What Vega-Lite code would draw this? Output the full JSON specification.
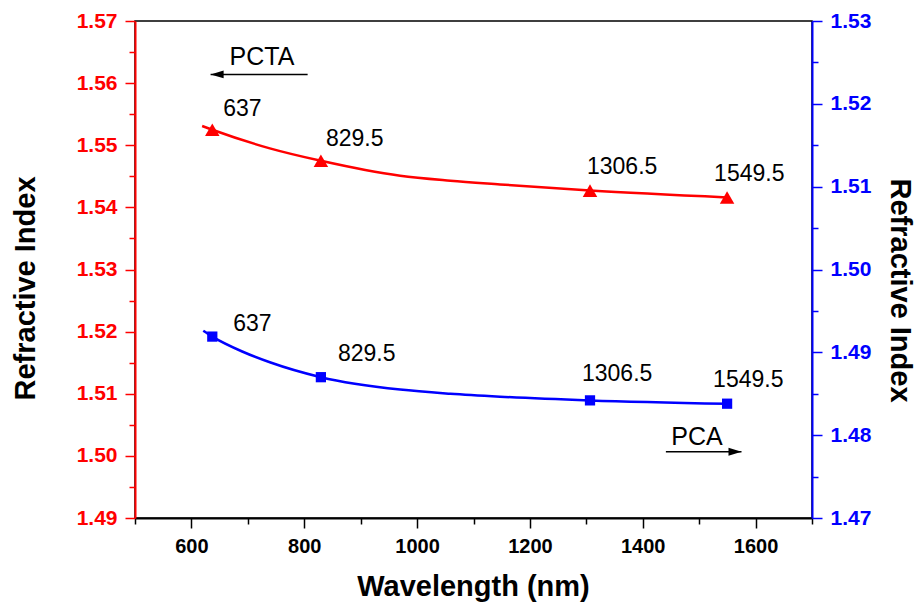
{
  "$schema": "https://vega.github.io/schema/vega-lite/v6.json",
  "width": 677,
  "height": 497,
  "autosize": {"type": "none"},
  "padding": {"left": 135, "top": 21, "right": 104, "bottom": 87},
  "background": "white",
  "config": {
    "view": {"stroke": "black", "strokeWidth": 1.5},
    "font": "Liberation Sans",
    "axis": {"labelFont": "Liberation Sans", "titleFont": "Liberation Sans", "grid": false, "labelOverlap": false, "labelFlush": false}
  },
  "datasets": {
    "markers": [
      {"polymer": "PCTA", "wavelength": 637, "n": 1.5525, "label": "637"},
      {"polymer": "PCTA", "wavelength": 829.5, "n": 1.5475, "label": "829.5"},
      {"polymer": "PCTA", "wavelength": 1306.5, "n": 1.5427, "label": "1306.5"},
      {"polymer": "PCTA", "wavelength": 1549.5, "n": 1.5416, "label": "1549.5"},
      {"polymer": "PCA", "wavelength": 637, "n": 1.4919, "label": "637"},
      {"polymer": "PCA", "wavelength": 829.5, "n": 1.487, "label": "829.5"},
      {"polymer": "PCA", "wavelength": 1306.5, "n": 1.4842, "label": "1306.5"},
      {"polymer": "PCA", "wavelength": 1549.5, "n": 1.4838, "label": "1549.5"}
    ],
    "pctaCurve": [
      {"wavelength": 619, "n": 1.5531},
      {"wavelength": 637, "n": 1.5525},
      {"wavelength": 739, "n": 1.5495},
      {"wavelength": 829.5, "n": 1.5475},
      {"wavelength": 970, "n": 1.5451},
      {"wavelength": 1059, "n": 1.5443},
      {"wavelength": 1147, "n": 1.5437},
      {"wavelength": 1306.5, "n": 1.5427},
      {"wavelength": 1549.5, "n": 1.5416}
    ],
    "pcaCurve": [
      {"wavelength": 621, "n": 1.4926},
      {"wavelength": 637, "n": 1.4919},
      {"wavelength": 690, "n": 1.4901},
      {"wavelength": 739, "n": 1.4888},
      {"wavelength": 829.5, "n": 1.487},
      {"wavelength": 970, "n": 1.4855},
      {"wavelength": 1059, "n": 1.485},
      {"wavelength": 1147, "n": 1.48465},
      {"wavelength": 1306.5, "n": 1.4842},
      {"wavelength": 1549.5, "n": 1.4838}
    ],
    "notes": [
      {"polymer": "PCTA", "wavelength": 725, "n": 1.5629, "text": "PCTA"},
      {"polymer": "PCA", "wavelength": 1496, "n": 1.4788, "text": "PCA"}
    ],
    "arrows": [
      {"polymer": "PCTA", "wavelength": 634, "tail": 806, "n": 1.5614},
      {"polymer": "PCA", "wavelength": 1575, "tail": 1441, "n": 1.478}
    ]
  },
  "encoding": {
    "x": {
      "field": "wavelength",
      "type": "quantitative",
      "scale": {"domain": [500, 1700], "nice": false, "zero": false},
      "axis": {
        "title": "Wavelength (nm)",
        "values": [500, 600, 700, 800, 900, 1000, 1100, 1200, 1300, 1400, 1500, 1600, 1700],
        "labelExpr": "datum.value % 200 == 0 ? format(datum.value, 'd') : ''",
        "tickSize": {"condition": {"test": "datum.value % 200 == 0", "value": 10}, "value": 6},
        "domainColor": "black",
        "domainWidth": 2,
        "tickColor": "black",
        "tickWidth": 1.5,
        "labelColor": "black",
        "labelFontSize": 20,
        "labelFontWeight": "bold",
        "labelPadding": 8,
        "titleFontSize": 29,
        "titleFontWeight": "bold",
        "titleColor": "black",
        "titleBaseline": "alphabetic",
        "titleX": 338,
        "titleY": 77,
        "zindex": 1
      }
    }
  },
  "layer": [
    {
      "encoding": {
        "y": {
          "field": "n",
          "type": "quantitative",
          "scale": {"domain": [1.49, 1.57], "nice": false, "zero": false},
          "axis": {
            "orient": "left",
            "title": "Refractive Index",
            "values": [1.49, 1.495, 1.5, 1.505, 1.51, 1.515, 1.52, 1.525, 1.53, 1.535, 1.54, 1.545, 1.55, 1.555, 1.56, 1.565, 1.57],
            "labelExpr": "round(datum.value * 1000) % 10 == 0 ? format(datum.value, '.2f') : ''",
            "tickSize": {"condition": {"test": "round(datum.value * 1000) % 10 == 0", "value": 10}, "value": 6},
            "domainColor": "#ff0000",
            "domainWidth": 2,
            "tickColor": "#ff0000",
            "tickWidth": 1.5,
            "labelColor": "#ff0000",
            "labelFontSize": 21,
            "labelFontWeight": "bold",
            "labelPadding": 8,
            "titleFontSize": 29,
            "titleFontWeight": "bold",
            "titleColor": "black",
            "titleAngle": -90,
            "titleBaseline": "alphabetic",
            "titleX": -101,
            "titleY": 267,
            "zindex": 1
          }
        }
      },
      "layer": [
        {
          "data": {"name": "pctaCurve"},
          "mark": {"type": "line", "color": "#ff0000", "strokeWidth": 2.5, "interpolate": "monotone"}
        },
        {
          "data": {"name": "markers"},
          "transform": [{"filter": "datum.polymer == 'PCTA'"}],
          "mark": {"type": "point", "shape": "triangle-up", "filled": true, "color": "#ff0000", "opacity": 1, "size": 210}
        },
        {
          "data": {"name": "markers"},
          "transform": [{"filter": "datum.polymer == 'PCTA' && datum.label == '637'"}],
          "mark": {"type": "text", "align": "left", "baseline": "alphabetic", "fontSize": 23, "color": "black", "dx": 11, "dy": -14},
          "encoding": {"text": {"field": "label"}}
        },
        {
          "data": {"name": "markers"},
          "transform": [{"filter": "datum.polymer == 'PCTA' && datum.label == '829.5'"}],
          "mark": {"type": "text", "align": "left", "baseline": "alphabetic", "fontSize": 23, "color": "black", "dx": 5, "dy": -15},
          "encoding": {"text": {"field": "label"}}
        },
        {
          "data": {"name": "markers"},
          "transform": [{"filter": "datum.polymer == 'PCTA' && datum.label == '1306.5'"}],
          "mark": {"type": "text", "align": "left", "baseline": "alphabetic", "fontSize": 23, "color": "black", "dx": -3, "dy": -17},
          "encoding": {"text": {"field": "label"}}
        },
        {
          "data": {"name": "markers"},
          "transform": [{"filter": "datum.polymer == 'PCTA' && datum.label == '1549.5'"}],
          "mark": {"type": "text", "align": "left", "baseline": "alphabetic", "fontSize": 23, "color": "black", "dx": -13, "dy": -16},
          "encoding": {"text": {"field": "label"}}
        },
        {
          "data": {"name": "notes"},
          "transform": [{"filter": "datum.polymer == 'PCTA'"}],
          "mark": {"type": "text", "align": "center", "baseline": "alphabetic", "fontSize": 25, "color": "black"},
          "encoding": {"text": {"field": "text"}}
        },
        {
          "data": {"name": "arrows"},
          "transform": [{"filter": "datum.polymer == 'PCTA'"}],
          "mark": {"type": "rule", "color": "black", "strokeWidth": 1.5},
          "encoding": {"x2": {"field": "tail"}}
        },
        {
          "data": {"name": "arrows"},
          "transform": [{"filter": "datum.polymer == 'PCTA'"}],
          "mark": {"type": "point", "shape": "M0,0L2,-0.6L2,0.6Z", "filled": true, "color": "black", "opacity": 1, "size": 169}
        }
      ]
    },
    {
      "encoding": {
        "y": {
          "field": "n",
          "type": "quantitative",
          "scale": {"domain": [1.47, 1.53], "nice": false, "zero": false},
          "axis": {
            "orient": "right",
            "title": "Refractive Index",
            "values": [1.47, 1.475, 1.48, 1.485, 1.49, 1.495, 1.5, 1.505, 1.51, 1.515, 1.52, 1.525, 1.53],
            "labelExpr": "round(datum.value * 1000) % 10 == 0 ? format(datum.value, '.2f') : ''",
            "tickSize": {"condition": {"test": "round(datum.value * 1000) % 10 == 0", "value": 10}, "value": 6},
            "domainColor": "#0000ff",
            "domainWidth": 2,
            "tickColor": "#0000ff",
            "tickWidth": 1.5,
            "labelColor": "#0000ff",
            "labelFontSize": 21,
            "labelFontWeight": "bold",
            "labelPadding": 8,
            "titleFontSize": 29,
            "titleFontWeight": "bold",
            "titleColor": "black",
            "titleAngle": 90,
            "titleBaseline": "alphabetic",
            "titleX": 78,
            "titleY": 269,
            "zindex": 1
          }
        }
      },
      "layer": [
        {
          "data": {"name": "pcaCurve"},
          "mark": {"type": "line", "color": "#0000ff", "strokeWidth": 2.5, "interpolate": "monotone"}
        },
        {
          "data": {"name": "markers"},
          "transform": [{"filter": "datum.polymer == 'PCA'"}],
          "mark": {"type": "point", "shape": "square", "filled": true, "color": "#0000ff", "opacity": 1, "size": 105}
        },
        {
          "data": {"name": "markers"},
          "transform": [{"filter": "datum.polymer == 'PCA' && datum.label == '637'"}],
          "mark": {"type": "text", "align": "left", "baseline": "alphabetic", "fontSize": 23, "color": "black", "dx": 21, "dy": -6},
          "encoding": {"text": {"field": "label"}}
        },
        {
          "data": {"name": "markers"},
          "transform": [{"filter": "datum.polymer == 'PCA' && datum.label == '829.5'"}],
          "mark": {"type": "text", "align": "left", "baseline": "alphabetic", "fontSize": 23, "color": "black", "dx": 17, "dy": -16},
          "encoding": {"text": {"field": "label"}}
        },
        {
          "data": {"name": "markers"},
          "transform": [{"filter": "datum.polymer == 'PCA' && datum.label == '1306.5'"}],
          "mark": {"type": "text", "align": "left", "baseline": "alphabetic", "fontSize": 23, "color": "black", "dx": -8, "dy": -19},
          "encoding": {"text": {"field": "label"}}
        },
        {
          "data": {"name": "markers"},
          "transform": [{"filter": "datum.polymer == 'PCA' && datum.label == '1549.5'"}],
          "mark": {"type": "text", "align": "left", "baseline": "alphabetic", "fontSize": 23, "color": "black", "dx": -14, "dy": -17},
          "encoding": {"text": {"field": "label"}}
        },
        {
          "data": {"name": "notes"},
          "transform": [{"filter": "datum.polymer == 'PCA'"}],
          "mark": {"type": "text", "align": "center", "baseline": "alphabetic", "fontSize": 25, "color": "black"},
          "encoding": {"text": {"field": "text"}}
        },
        {
          "data": {"name": "arrows"},
          "transform": [{"filter": "datum.polymer == 'PCA'"}],
          "mark": {"type": "rule", "color": "black", "strokeWidth": 1.5},
          "encoding": {"x2": {"field": "tail"}}
        },
        {
          "data": {"name": "arrows"},
          "transform": [{"filter": "datum.polymer == 'PCA'"}],
          "mark": {"type": "point", "shape": "M0,0L-2,-0.6L-2,0.6Z", "filled": true, "color": "black", "opacity": 1, "size": 169}
        }
      ]
    }
  ],
  "resolve": {"scale": {"y": "independent"}}
}
